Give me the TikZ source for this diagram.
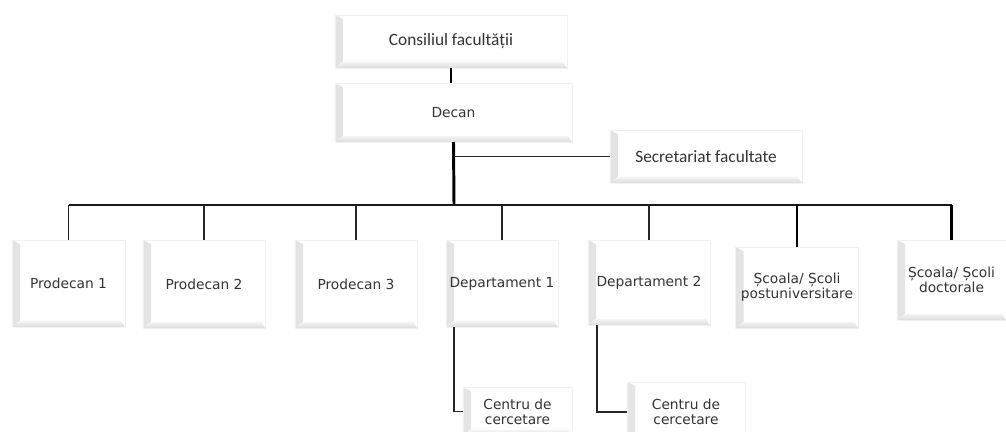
\documentclass[tikz,border=0pt]{standalone}
\usepackage{fontspec}
\setmainfont{DejaVu Sans}
\newfontfamily\calfont{Carlito}
\usepackage{xcolor}
\usepackage{tikz}
\usetikzlibrary{positioning,calc}

\tikzset{
    bevelbox/.style={draw=gray!10, fill=white, inner sep=0pt, outer sep=0pt,
        align=center, text=black!80, font=\fontsize{9.8}{10.6}\selectfont,
        path picture={
            \fill[left color=gray!22, right color=gray!6]
                (path picture bounding box.south west) --
                (path picture bounding box.north west) --
                ([xshift=5.7pt,yshift=-3pt]path picture bounding box.north west) --
                ([xshift=5.7pt,yshift=4.3pt]path picture bounding box.south west) -- cycle;
            \fill[top color=gray!8, bottom color=gray!28]
                (path picture bounding box.south west) --
                ([xshift=5.7pt,yshift=4.3pt]path picture bounding box.south west) --
                ([xshift=-3pt,yshift=4.3pt]path picture bounding box.south east) --
                (path picture bounding box.south east) -- cycle;
        }},
    calbox/.style={bevelbox, font=\calfont\fontsize{12.3}{13}\selectfont},
    thinline/.style={draw=black!85, line width=0.9pt},
    busline/.style={draw=black!90, line width=1.4pt},
    thickline/.style={draw=black, line width=2.1pt}
}

\begin{document}
\begin{tikzpicture}[x=0.025cm, y=-0.025cm]
    \useasboundingbox (0,0) rectangle (1006,432);
    \clip (0,0) rectangle (1006,432);

    % Council and dean
    \node[calbox, minimum width=5.8cm, minimum height=1.325cm] (cons) at (451,41.5) {Consiliul facultății};
    \node[bevelbox, minimum width=5.925cm, minimum height=1.475cm] (decan) at (453.5,112.5) {Decan};
    \node[calbox, minimum width=4.8cm, minimum height=1.325cm] (secr) at (706,156.5) {Secretariat facultate};

    % Second level
    \node[bevelbox, minimum width=2.825cm, minimum height=2.175cm] (p1) at (68.5,283.5) {Prodecan 1};
    \node[bevelbox, minimum width=3.05cm, minimum height=2.2cm] (p2) at (204,284) {Prodecan 2};
    \node[bevelbox, minimum width=3.05cm, minimum height=2.2cm] (p3) at (356,284) {Prodecan 3};
    \node[bevelbox, minimum width=2.8cm, minimum height=2.175cm] (d1) at (502,283.5) {Departament 1};
    \node[bevelbox, minimum width=3.05cm, minimum height=2.125cm] (d2) at (649,282.5) {Departament 2};
    \node[bevelbox, minimum width=3.075cm, minimum height=2.025cm] (s1) at (797,287.5) {Școala/ Școli\\postuniversitare};
    \node[bevelbox, minimum width=2.725cm, minimum height=2cm] (s2) at (951.5,280) {Școala/ Școli\\doctorale};

    % Research centres
    \node[bevelbox, minimum width=2.725cm, minimum height=1.225cm] (c1) at (517.5,411.5) {Centru de\\cercetare};
    \node[bevelbox, minimum width=2.95cm, minimum height=1.5cm] (c2) at (686,412) {Centru de\\cercetare};

    % Connectors
    \coordinate (bus) at (454,205);
    \draw[thickline] (cons.south) -- (cons.south |- decan.north);
    \draw[thickline] (decan.south) -- (bus);
    \draw[thinline] (secr.west) -- (secr.west -| bus);
    \draw[busline] (p1.north |- bus) -- (s2.north |- bus);
    \draw[thinline] (p1.north |- bus) -- (p1.north);
    \draw[thinline] (p2.north |- bus) -- (p2.north);
    \draw[thinline] (p3.north |- bus) -- (p3.north);
    \draw[thinline] (d1.north |- bus) -- (d1.north);
    \draw[thinline] (d2.north |- bus) -- (d2.north);
    \draw[thickline] (s1.north |- bus) -- (s1.north);
    \draw[thickline] (s2.north |- bus) -- (s2.north);
    \draw[thinline] ([xshift=0.2cm]d1.south west) |- (c1.west);
    \draw[thinline] ([xshift=0.225cm]d2.south west) |- (c2.west);
\end{tikzpicture}
\end{document}
